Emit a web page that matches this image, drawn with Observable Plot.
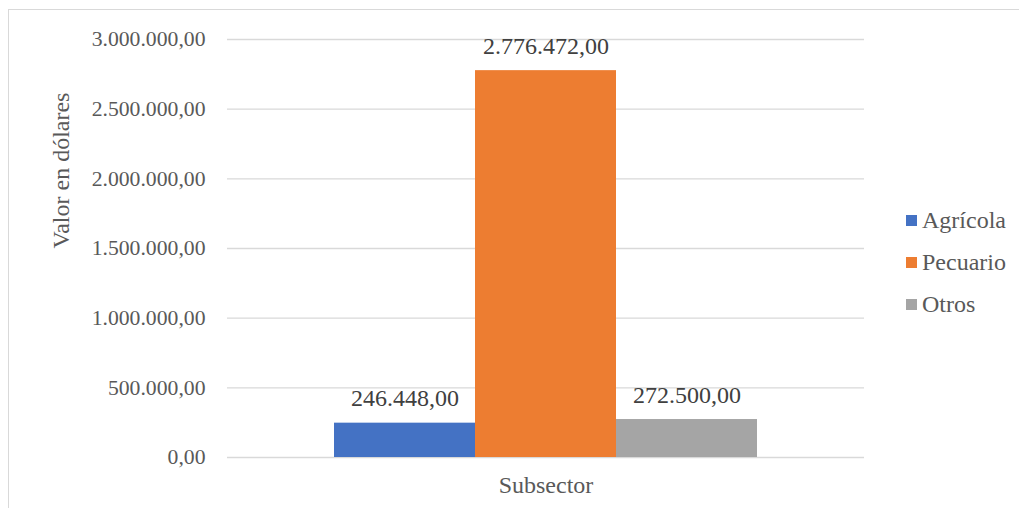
<!DOCTYPE html>
<html>
<head>
<meta charset="utf-8">
<script src="https://cdn.jsdelivr.net/npm/d3@7"></script>
<script src="https://cdn.jsdelivr.net/npm/@observablehq/plot@0.6"></script>
<style>
  body { margin: 0; padding: 0; background: #fff; font-family: 'Liberation Serif', serif; }
  .lgrow { display: flex; align-items: center; height: 42px; font-size: 24px; line-height: 42px; color: #595959; font-family: 'Liberation Serif', serif; }
  .lgsw { display: inline-block; width: 11px; height: 11px; margin-right: 5px; }
</style>
<script>
const categories = ["Agrícola", "Pecuario", "Otros"];
const values = [246448, 2776472, 272500];
const colors = ["#4472C4", "#ED7D31", "#A5A5A5"];
const yTicks = [0, 500000, 1000000, 1500000, 2000000, 2500000, 3000000];
const xTitle = "Subsector";
const yTitle = "Valor en dólares";
</script>
</head>
<body>
<div id="box" style="position:relative;width:1019px;height:508px">
  <div style="position:absolute;left:8px;top:9px;width:1011px;height:499px;border-left:1.5px solid #D9D9D9;border-top:1.5px solid #D9D9D9;box-sizing:border-box"></div>
  <div id="pl" style="position:absolute;left:0;top:0"></div>
  <div id="lg" style="position:absolute;left:906px;top:199px">
<script>
categories.forEach((c, i) => {
  document.write('<div class="lgrow"><span class="lgsw" style="background:' + colors[i] + '"></span><span>' + c + '</span></div>');
});
</script>
  </div>
</div>
<script>
const FONT = "Liberation Serif";
const locale = d3.formatLocale({decimal: ",", thousands: ".", grouping: [3], currency: ["$", ""]});
const fmt = locale.format(",.2f");

const data = categories.map((c, i) => ({cat: c, value: values[i]}));

const svg = Plot.plot({
  width: 1019,
  height: 508,
  marginLeft: 227,
  marginRight: 155,
  marginTop: 39,
  marginBottom: 51,
  style: {fontFamily: FONT, fontSize: "21.7px", color: "#595959", background: "transparent"},
  x: {domain: categories, paddingInner: 0, paddingOuter: 0.75, axis: null},
  y: {domain: [0, 3000000], ticks: yTicks, tickFormat: fmt, tickSize: 0, tickPadding: 22, label: null},
  color: {domain: categories, range: colors},
  marks: [
    Plot.gridY(yTicks, {stroke: "#D9D9D9", strokeOpacity: 1, strokeWidth: 1.3}),
    Plot.axisY(yTicks, {tickFormat: fmt, tickSize: 0, tickPadding: 22, fill: "#595959", fontSize: 21.7, fontFamily: FONT, label: null}),
    Plot.barY(data, {x: "cat", y: "value", fill: "cat"}),
    Plot.text(data, {x: "cat", y: "value", text: d => fmt(d.value), lineAnchor: "bottom", dy: -17, fill: "#404040", fontSize: 24, fontFamily: FONT}),
    Plot.text([xTitle], {frameAnchor: "bottom", lineAnchor: "bottom", dy: 35, fill: "#595959", fontSize: 24, fontFamily: FONT}),
    Plot.text([yTitle], {frameAnchor: "left", rotate: -90, lineAnchor: "bottom", dx: -159, fill: "#595959", fontSize: 24, fontFamily: FONT})
  ]
});
document.getElementById("pl").appendChild(svg);
</script>
</body>
</html>
